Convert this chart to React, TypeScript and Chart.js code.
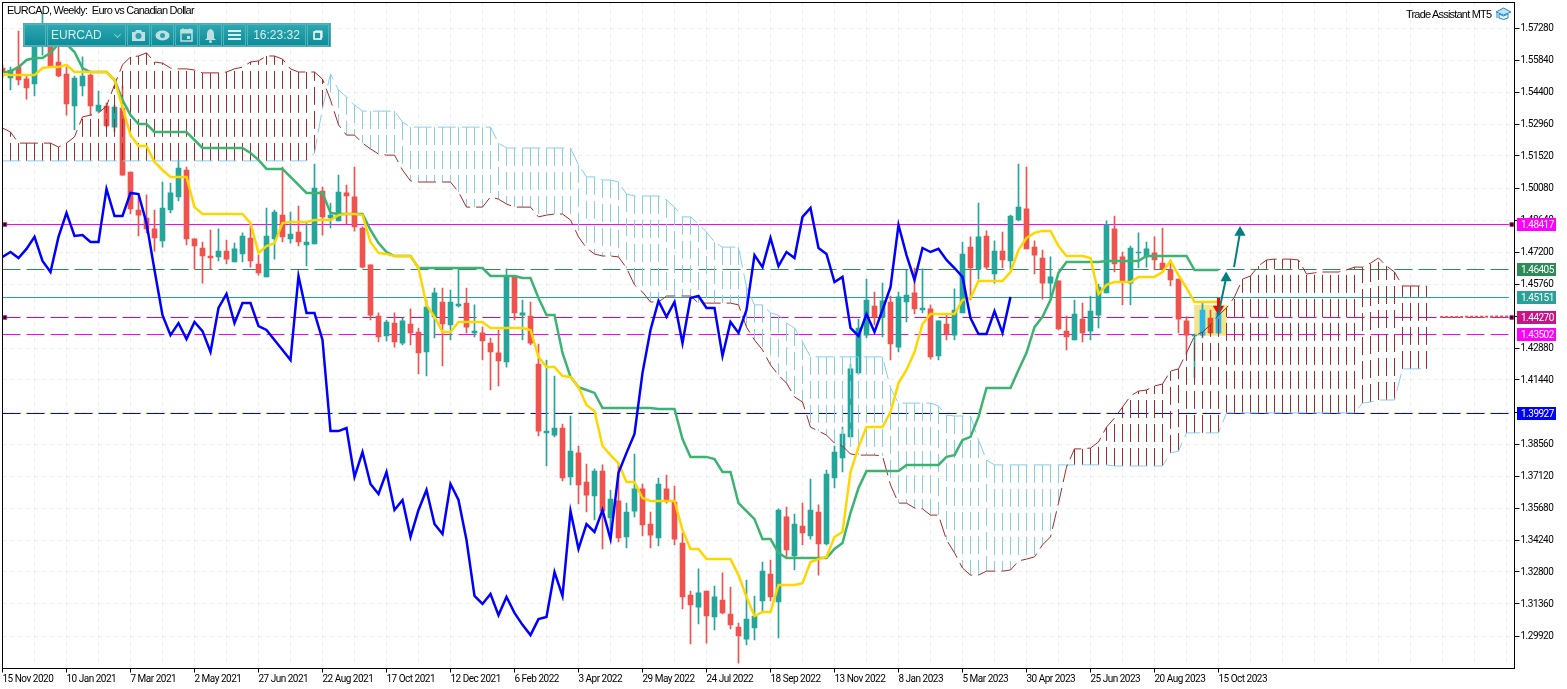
import React, { useEffect, useRef } from "react";
import { Chart, registerables } from "chart.js";

Chart.register(...registerables);

const FONT = 'Roboto, "Liberation Sans", sans-serif';

const dateLabels = ["15 Nov 2020","10 Jan 2021","7 Mar 2021","2 May 2021","27 Jun 2021","22 Aug 2021","17 Oct 2021","12 Dec 2021","6 Feb 2022","3 Apr 2022","29 May 2022","24 Jul 2022","18 Sep 2022","13 Nov 2022","8 Jan 2023","5 Mar 2023","30 Apr 2023","25 Jun 2023","20 Aug 2023","15 Oct 2023"];
const priceTicks = [1.5728,1.5584,1.544,1.5296,1.5152,1.5008,1.4864,1.472,1.4576,1.4432,1.4288,1.4144,1.4,1.3856,1.3712,1.3568,1.3424,1.328,1.3136,1.2992];

const highs = [1.5562,1.5552,1.5714,1.5517,1.5665,1.5791,1.5665,1.5642,1.5552,1.5512,1.5598,1.5521,1.5444,1.5390,1.5381,1.5467,1.5080,1.4968,1.4977,1.4909,1.5035,1.5030,1.5134,1.5102,1.4779,1.4765,1.4819,1.4824,1.4774,1.4760,1.4806,1.4837,1.4706,1.4918,1.4909,1.5102,1.4900,1.4927,1.4850,1.5116,1.5012,1.4940,1.5066,1.5021,1.5102,1.4833,1.4662,1.4446,1.4414,1.4446,1.4423,1.4464,1.4378,1.4504,1.4558,1.4558,1.4549,1.4644,1.4558,1.4482,1.4382,1.4333,1.4369,1.4644,1.4612,1.4504,1.4495,1.4306,1.4234,1.4162,1.3946,1.3982,1.3847,1.3766,1.3744,1.3762,1.3649,1.3762,1.3590,1.3811,1.3676,1.3550,1.3703,1.3716,1.3667,1.3456,1.3194,1.3294,1.3194,1.3217,1.3276,1.3212,1.3050,1.3244,1.3172,1.3325,1.3334,1.3564,1.3572,1.3541,1.3590,1.3698,1.3582,1.3739,1.3847,1.3932,1.4216,1.4418,1.4598,1.4540,1.4580,1.4522,1.4540,1.4639,1.4648,1.4644,1.4482,1.4410,1.4436,1.4554,1.4765,1.4788,1.4940,1.4815,1.4770,1.4810,1.4886,1.5116,1.5102,1.4770,1.4729,1.4698,1.4590,1.4432,1.4504,1.4490,1.4522,1.4576,1.4860,1.4882,1.4720,1.4747,1.4806,1.4765,1.4788,1.4828,1.4684,1.4598,1.4428,1.4351,1.4490,1.4459,1.4513];
const lows = [1.5503,1.5449,1.5472,1.5408,1.5422,1.5606,1.5557,1.5508,1.5336,1.5269,1.5422,1.5336,1.5350,1.5282,1.5260,1.5066,1.4891,1.4792,1.4806,1.4724,1.4742,1.4896,1.4950,1.4752,1.4644,1.4580,1.4644,1.4680,1.4666,1.4675,1.4675,1.4652,1.4616,1.4608,1.4688,1.4765,1.4760,1.4747,1.4657,1.4756,1.4796,1.4828,1.4860,1.4846,1.4814,1.4648,1.4414,1.4315,1.4320,1.4292,1.4302,1.4302,1.4171,1.4162,1.4333,1.4207,1.4324,1.4472,1.4356,1.4338,1.4234,1.4099,1.4117,1.4202,1.4414,1.4324,1.4302,1.3892,1.3757,1.3888,1.3690,1.3672,1.3586,1.3550,1.3514,1.3384,1.3469,1.3415,1.3388,1.3528,1.3442,1.3388,1.3397,1.3590,1.3402,1.3114,1.2956,1.3046,1.2960,1.3019,1.3091,1.3024,1.2870,1.2952,1.2974,1.3104,1.3150,1.2983,1.3343,1.3289,1.3402,1.3428,1.3266,1.3402,1.3658,1.3730,1.3888,1.4171,1.4333,1.4392,1.4338,1.4234,1.4270,1.4405,1.4441,1.4446,1.4238,1.4234,1.4324,1.4324,1.4446,1.4504,1.4598,1.4644,1.4580,1.4648,1.4639,1.4860,1.4734,1.4621,1.4508,1.4513,1.4369,1.4279,1.4324,1.4315,1.4324,1.4378,1.4536,1.4630,1.4482,1.4482,1.4648,1.4652,1.4639,1.4639,1.4567,1.4356,1.4266,1.4153,1.4333,1.4351,1.4351];
const opens = [1.5548,1.5503,1.5552,1.5499,1.5476,1.5652,1.5642,1.5575,1.5521,1.5377,1.5467,1.5516,1.5354,1.5377,1.5282,1.5368,1.5080,1.4909,1.4873,1.4824,1.4770,1.4909,1.4968,1.5089,1.4779,1.4738,1.4702,1.4698,1.4724,1.4675,1.4711,1.4783,1.4666,1.4608,1.4779,1.4886,1.4779,1.4810,1.4752,1.4756,1.4994,1.4873,1.4860,1.4986,1.4968,1.4828,1.4662,1.4432,1.4342,1.4400,1.4310,1.4396,1.4360,1.4270,1.4428,1.4495,1.4392,1.4477,1.4490,1.4356,1.4356,1.4310,1.4266,1.4225,1.4608,1.4436,1.4432,1.4216,1.3906,1.3896,1.3928,1.3708,1.3816,1.3685,1.3622,1.3734,1.3523,1.3600,1.3438,1.3554,1.3654,1.3496,1.3433,1.3654,1.3595,1.3410,1.3176,1.3122,1.3194,1.3078,1.3154,1.3091,1.3032,1.2978,1.3028,1.3150,1.3271,1.3145,1.3528,1.3352,1.3487,1.3442,1.3550,1.3406,1.3703,1.3793,1.3888,1.4176,1.4346,1.4477,1.4428,1.4495,1.4292,1.4495,1.4536,1.4459,1.4464,1.4252,1.4396,1.4346,1.4446,1.4742,1.4644,1.4792,1.4621,1.4724,1.4680,1.4864,1.4914,1.4742,1.4693,1.4580,1.4590,1.4364,1.4324,1.4418,1.4364,1.4436,1.4536,1.4824,1.4698,1.4580,1.4716,1.4698,1.4716,1.4670,1.4639,1.4598,1.4410,1.4342,1.4346,1.4423,1.4356];
const closes = [1.5516,1.5539,1.5494,1.5458,1.5652,1.5742,1.5557,1.5512,1.5386,1.5503,1.5512,1.5377,1.5381,1.5287,1.5372,1.5066,1.4914,1.4886,1.4824,1.4783,1.4918,1.4986,1.5098,1.4779,1.4747,1.4702,1.4693,1.4724,1.4688,1.4734,1.4792,1.4680,1.4626,1.4792,1.4900,1.4788,1.4801,1.4765,1.4765,1.5008,1.4878,1.4886,1.4990,1.4972,1.4833,1.4652,1.4436,1.4338,1.4405,1.4315,1.4410,1.4356,1.4266,1.4472,1.4536,1.4396,1.4495,1.4486,1.4382,1.4364,1.4320,1.4270,1.4230,1.4612,1.4446,1.4446,1.4310,1.3914,1.3914,1.3928,1.3703,1.3824,1.3672,1.3626,1.3734,1.3554,1.3608,1.3433,1.3550,1.3654,1.3492,1.3446,1.3676,1.3604,1.3428,1.3168,1.3132,1.3186,1.3082,1.3168,1.3096,1.3042,1.2992,1.3068,1.3082,1.3284,1.3168,1.3559,1.3379,1.3496,1.3456,1.3559,1.3406,1.3721,1.3820,1.3901,1.4194,1.4378,1.4504,1.4428,1.4500,1.4306,1.4518,1.4526,1.4464,1.4468,1.4248,1.4410,1.4351,1.4459,1.4711,1.4648,1.4788,1.4652,1.4724,1.4684,1.4882,1.4922,1.4734,1.4706,1.4580,1.4608,1.4374,1.4338,1.4441,1.4356,1.4454,1.4562,1.4842,1.4666,1.4590,1.4738,1.4720,1.4734,1.4684,1.4644,1.4594,1.4418,1.4346,1.4346,1.4459,1.4356,1.4446];

const tenkan = [1.5521,1.5516,1.5516,1.5516,1.5516,1.5548,1.5552,1.5552,1.5562,1.5530,1.5530,1.5530,1.5530,1.5530,1.5494,1.5372,1.5246,1.5197,1.5197,1.5125,1.5089,1.5058,1.5058,1.5058,1.4922,1.4891,1.4891,1.4891,1.4891,1.4891,1.4891,1.4850,1.4716,1.4747,1.4760,1.4850,1.4855,1.4855,1.4855,1.4864,1.4864,1.4864,1.4886,1.4891,1.4891,1.4886,1.4765,1.4716,1.4711,1.4702,1.4702,1.4702,1.4648,1.4482,1.4428,1.4360,1.4360,1.4405,1.4405,1.4405,1.4405,1.4378,1.4378,1.4378,1.4378,1.4378,1.4369,1.4248,1.4202,1.4202,1.4162,1.4158,1.4112,1.4032,1.4004,1.3847,1.3806,1.3770,1.3685,1.3685,1.3613,1.3600,1.3600,1.3600,1.3600,1.3469,1.3384,1.3384,1.3338,1.3338,1.3338,1.3338,1.3266,1.3168,1.3082,1.3100,1.3100,1.3222,1.3222,1.3222,1.3230,1.3325,1.3338,1.3348,1.3438,1.3460,1.3730,1.3842,1.3932,1.3932,1.3932,1.4000,1.4130,1.4189,1.4270,1.4396,1.4441,1.4441,1.4441,1.4441,1.4504,1.4513,1.4590,1.4590,1.4590,1.4590,1.4630,1.4729,1.4783,1.4806,1.4815,1.4815,1.4747,1.4702,1.4702,1.4702,1.4693,1.4531,1.4572,1.4585,1.4585,1.4585,1.4608,1.4608,1.4608,1.4630,1.4680,1.4616,1.4558,1.4495,1.4495,1.4495,1.4495];
const kijun = [1.5526,1.5534,1.5552,1.5584,1.5593,1.5593,1.5616,1.5656,1.5656,1.5620,1.5548,1.5530,1.5530,1.5530,1.5494,1.5404,1.5336,1.5296,1.5296,1.5260,1.5260,1.5260,1.5260,1.5260,1.5224,1.5188,1.5188,1.5188,1.5188,1.5188,1.5188,1.5166,1.5134,1.5094,1.5094,1.5094,1.5058,1.5022,1.4986,1.4986,1.4986,1.4896,1.4891,1.4891,1.4891,1.4891,1.4819,1.4760,1.4720,1.4702,1.4702,1.4702,1.4648,1.4648,1.4648,1.4648,1.4648,1.4648,1.4648,1.4648,1.4648,1.4612,1.4612,1.4612,1.4612,1.4603,1.4603,1.4513,1.4436,1.4436,1.4266,1.4158,1.4112,1.4099,1.4086,1.4018,1.4018,1.4018,1.4018,1.4018,1.4018,1.4018,1.4014,1.4014,1.4014,1.3878,1.3798,1.3798,1.3798,1.3788,1.3730,1.3730,1.3590,1.3554,1.3518,1.3428,1.3428,1.3366,1.3343,1.3343,1.3343,1.3343,1.3343,1.3343,1.3384,1.3410,1.3546,1.3658,1.3734,1.3734,1.3734,1.3734,1.3734,1.3762,1.3762,1.3762,1.3762,1.3762,1.3798,1.3806,1.3874,1.3888,1.3978,1.4108,1.4108,1.4108,1.4108,1.4189,1.4266,1.4382,1.4428,1.4504,1.4626,1.4675,1.4675,1.4675,1.4675,1.4675,1.4680,1.4680,1.4680,1.4680,1.4680,1.4702,1.4702,1.4702,1.4702,1.4702,1.4702,1.4639,1.4639,1.4639,1.4639];
const chikou = [1.4698,1.4720,1.4693,1.4734,1.4788,1.4680,1.4630,1.4788,1.4896,1.4792,1.4796,1.4765,1.4765,1.5004,1.4882,1.4882,1.4986,1.4981,1.4850,1.4639,1.4436,1.4346,1.4400,1.4328,1.4405,1.4364,1.4270,1.4468,1.4531,1.4400,1.4490,1.4490,1.4387,1.4369,1.4324,1.4279,1.4234,1.4612,1.4446,1.4446,1.4324,1.3914,1.3914,1.3928,1.3708,1.3820,1.3676,1.3631,1.3730,1.3559,1.3604,1.3438,1.3559,1.3649,1.3496,1.3451,1.3676,1.3604,1.3424,1.3172,1.3136,1.3181,1.3086,1.3168,1.3096,1.3042,1.2996,1.3068,1.3078,1.3280,1.3172,1.3554,1.3384,1.3496,1.3460,1.3559,1.3428,1.3726,1.3816,1.3901,1.4176,1.4369,1.4500,1.4428,1.4495,1.4310,1.4513,1.4522,1.4468,1.4468,1.4252,1.4405,1.4356,1.4459,1.4706,1.4652,1.4783,1.4657,1.4720,1.4693,1.4878,1.4918,1.4738,1.4711,1.4585,1.4608,1.4378,1.4342,1.4441,1.4360,1.4459,1.4562,1.4842,1.4706,1.4594,1.4738,1.4720,1.4734,1.4684,1.4648,1.4608,1.4423,1.4351,1.4351,1.4454,1.4356,1.4518];
const spanA = [1.5278,1.5260,1.5210,1.5210,1.5210,1.5210,1.5210,1.5192,1.5210,1.5238,1.5328,1.5336,1.5346,1.5377,1.5472,1.5562,1.5598,1.5602,1.5616,1.5575,1.5570,1.5548,1.5544,1.5544,1.5539,1.5526,1.5526,1.5526,1.5530,1.5544,1.5552,1.5575,1.5580,1.5602,1.5602,1.5588,1.5544,1.5530,1.5530,1.5530,1.5498,1.5404,1.5292,1.5246,1.5246,1.5210,1.5184,1.5161,1.5156,1.5156,1.5089,1.5040,1.5035,1.5035,1.5035,1.5035,1.5035,1.4990,1.4922,1.4922,1.4922,1.4968,1.4958,1.4936,1.4922,1.4922,1.4922,1.4878,1.4886,1.4891,1.4891,1.4864,1.4788,1.4738,1.4711,1.4702,1.4702,1.4698,1.4648,1.4572,1.4540,1.4495,1.4495,1.4522,1.4522,1.4522,1.4522,1.4490,1.4490,1.4490,1.4490,1.4490,1.4482,1.4382,1.4324,1.4279,1.4212,1.4166,1.4130,1.4068,1.4045,1.3932,1.3914,1.3896,1.3860,1.3847,1.3811,1.3806,1.3806,1.3806,1.3802,1.3672,1.3590,1.3590,1.3568,1.3564,1.3536,1.3536,1.3424,1.3366,1.3298,1.3266,1.3266,1.3284,1.3284,1.3284,1.3289,1.3330,1.3338,1.3348,1.3402,1.3438,1.3590,1.3752,1.3834,1.3834,1.3838,1.3865,1.3932,1.3973,1.4022,1.4072,1.4094,1.4099,1.4117,1.4126,1.4184,1.4194,1.4266,1.4342,1.4360,1.4392,1.4436,1.4468,1.4518,1.4598,1.4612,1.4657,1.4684,1.4688,1.4688,1.4688,1.4684,1.4621,1.4626,1.4630,1.4630,1.4630,1.4639,1.4652,1.4652,1.4670,1.4693,1.4657,1.4630,1.4567,1.4567,1.4567,1.4567];
const spanB = [1.5130,1.5130,1.5130,1.5130,1.5130,1.5130,1.5130,1.5130,1.5130,1.5130,1.5130,1.5130,1.5130,1.5130,1.5130,1.5130,1.5130,1.5130,1.5130,1.5130,1.5130,1.5130,1.5130,1.5130,1.5130,1.5130,1.5130,1.5130,1.5130,1.5130,1.5130,1.5130,1.5130,1.5130,1.5130,1.5130,1.5130,1.5130,1.5130,1.5166,1.5368,1.5521,1.5449,1.5418,1.5381,1.5354,1.5354,1.5354,1.5354,1.5354,1.5305,1.5282,1.5282,1.5282,1.5282,1.5282,1.5282,1.5282,1.5282,1.5282,1.5282,1.5282,1.5210,1.5188,1.5188,1.5188,1.5188,1.5188,1.5188,1.5188,1.5188,1.5188,1.5112,1.5058,1.5058,1.5044,1.5044,1.5035,1.4981,1.4972,1.4972,1.4972,1.4972,1.4954,1.4922,1.4878,1.4878,1.4846,1.4810,1.4765,1.4742,1.4742,1.4742,1.4562,1.4482,1.4482,1.4446,1.4436,1.4400,1.4378,1.4315,1.4248,1.4248,1.4248,1.4248,1.4248,1.4248,1.4248,1.4248,1.4248,1.4248,1.4108,1.4040,1.4040,1.4040,1.4040,1.4040,1.4027,1.3986,1.3982,1.3982,1.3982,1.3874,1.3784,1.3762,1.3762,1.3762,1.3762,1.3762,1.3762,1.3762,1.3762,1.3762,1.3762,1.3762,1.3762,1.3762,1.3762,1.3762,1.3757,1.3757,1.3757,1.3757,1.3757,1.3757,1.3757,1.3816,1.3824,1.3906,1.3906,1.3906,1.3906,1.3906,1.3996,1.3996,1.3996,1.3996,1.3996,1.3996,1.3996,1.3996,1.3996,1.3996,1.3996,1.3996,1.3996,1.3996,1.3996,1.3996,1.3996,1.4040,1.4045,1.4054,1.4054,1.4054,1.4194,1.4194,1.4194,1.4194];

const levelValues = [1.48417, 1.46405, 1.45151, 1.4427, 1.43502, 1.39927];
const levelLines = [1.484375, 1.464125, 1.451525, 1.442525, 1.434875, 1.399325];
const levelColors = ["#FF00FF", "#2E8B57", "#2AA198", "#C71585", "#FF00FF", "#0000FF"];
const levelDashed = [false, true, false, true, true, true];
const levelEndX = 188.3;

const highlightIndexes = [150, 151, 152];
const highlightColors = ["#29B6E8", "#E5522A", "#29B6E8"];
const highlightBox = { x: 151, top: 1.44815, bottom: 1.43443 };
const anchorX = [0.3, 188.65];
const anchorY = [1.484375, 1.442525];
const bidLineX = [179.7, 188.3];
const bidLineY = [1.4427, 1.4430];
const arrowUpA = { x: [151.94, 152.95], y: [1.4432, 1.4603] };
const arrowUpB = { x: [153.94, 154.69], y: [1.4652, 1.4808] };
const arrowDown = { x: [152, 152], y: [1.4513, 1.4464] };

const BULL = "#26A69A";
const BEAR = "#EF5350";
const BROWN = "#A52A2A";
const SKY = "#87CEEB";

function series(values: number[]) {
  return values.map((y, x) => ({ x, y }));
}

function hatch(test: (a: number, b: number) => boolean) {
  const out: { x: number; y: number }[] = [];
  spanA.forEach((a, i) => {
    const b = spanB[i];
    if (i < spanB.length && test(a, b)) {
      out.push({ x: i, y: b }, { x: i, y: a }, { x: i, y: NaN });
    }
  });
  return out;
}

const lineBase = { type: "line" as const, pointRadius: 0, tension: 0, spanGaps: false, fill: false };

const tagPlugin = {
  id: "tags",
  beforeDraw(chart: any) {
    chart.ctx.letterSpacing = "-0.5px";
  },
  afterDraw(chart: any) {
    const { ctx, chartArea, scales } = chart;
    ctx.save();
    ctx.strokeStyle = "#000";
    ctx.lineWidth = 1;
    ctx.strokeRect(chartArea.left, chartArea.top, chartArea.right - chartArea.left, chartArea.bottom - chartArea.top);
    ctx.font = `10px ${FONT}`;
    ctx.textBaseline = "middle";
    ctx.textAlign = "left";
    levelValues.forEach((v, i) => {
      const y = Math.floor(scales.y.getPixelForValue(levelLines[i]));
      ctx.fillStyle = levelColors[i];
      ctx.fillRect(1517, y - 6, 39, 13);
      ctx.fillStyle = "#fff";
      ctx.fillText(v.toFixed(5), 1521, y + 1);
    });
    ctx.restore();
  },
};

const zeroPadding = (s: any) => {
  s.paddingLeft = 0;
  s.paddingRight = 0;
  s.paddingTop = 0;
  s.paddingBottom = 0;
};

const Cell = ({ x, w, children }: { x: number; w: number; children?: React.ReactNode }) => (
  <div style={{ position: "absolute", left: x - 24, top: 0, width: w, height: 22, boxSizing: "border-box", border: "1px solid #4FB4BC", display: "flex", alignItems: "center", justifyContent: "center" }}>
    {children}
  </div>
);

export default function App() {
  const ref = useRef<HTMLCanvasElement | null>(null);
  useEffect(() => {
    if (!ref.current) return;
    const wicks = highs.map((h, i) => ({ x: i, y: [lows[i], h] }));
    const bodies = opens.map((o, i) => ({ x: i, y: [o, closes[i]] }));
    const bodyColors = opens.map((o, i) => {
      const k = highlightIndexes.indexOf(i);
      if (k >= 0) return highlightColors[k];
      return closes[i] >= o ? BULL : BEAR;
    });
    const wickColors = opens.map((o, i) => (closes[i] >= o ? BULL : BEAR));
    const levelSets = levelLines.map((v, i) => ({
      ...lineBase,
      data: [{ x: 0, y: v }, { x: levelEndX, y: v }],
      borderColor: levelColors[i],
      borderWidth: 1,
      borderDash: levelDashed[i] ? [18, 6] : [],
      order: 60,
    }));
    const chart = new Chart(ref.current, {
      type: "line",
      data: {
        datasets: [
          ...levelSets,
          { type: "bar", data: [{ x: highlightBox.x, y: [highlightBox.bottom, highlightBox.top] }], backgroundColor: "#F0E68C", barThickness: 32, grouped: false, order: 55 },
          { type: "bar", data: wicks, backgroundColor: wickColors, barThickness: 1, grouped: false, order: 50 },
          { type: "bar", data: bodies, backgroundColor: bodyColors, barThickness: 5, grouped: false, order: 49 },
          { ...lineBase, data: hatch((a, b) => a > b), borderColor: BROWN, borderWidth: 1, borderDash: [18, 6], order: 40 },
          { ...lineBase, data: hatch((a, b) => a <= b), borderColor: SKY, borderWidth: 1, borderDash: [18, 6], order: 40 },
          { ...lineBase, data: series(spanB), borderColor: SKY, borderWidth: 1, borderDash: [18, 6], order: 39 },
          { ...lineBase, data: series(spanA), borderColor: BROWN, borderWidth: 1, borderDash: [18, 6], order: 38 },
          { ...lineBase, data: series(kijun), borderColor: "#3CB371", borderWidth: 2.5, order: 30 },
          { ...lineBase, data: series(tenkan), borderColor: "#FFD700", borderWidth: 2.5, order: 29 },
          { ...lineBase, data: series(chikou), borderColor: "#0000FF", borderWidth: 2.5, order: 28 },
          { ...lineBase, data: bidLineX.map((x, i) => ({ x, y: bidLineY[i] })), borderColor: "#EF5350", borderWidth: 2, borderDash: [3, 2], order: 27 },
          { ...lineBase, data: anchorX.flatMap((x) => anchorY.map((y) => ({ x, y }))), showLine: false, pointRadius: 2.5, pointStyle: "rect", backgroundColor: "#000", borderColor: "#C71585", borderWidth: 1, order: 26 },
          { ...lineBase, data: arrowDown.x.map((x, i) => ({ x, y: arrowDown.y[i] })), borderColor: "#FF0000", backgroundColor: "#FF0000", borderWidth: 3, pointRadius: [0, 6.5], pointStyle: "triangle", pointRotation: 180, pointBorderWidth: 0, order: 20 },
          { ...lineBase, data: arrowUpA.x.map((x, i) => ({ x, y: arrowUpA.y[i] })), borderColor: "#008080", backgroundColor: "#008080", borderWidth: 2, pointRadius: [0, 6.5], pointStyle: "triangle", pointBorderWidth: 0, order: 19 },
          { ...lineBase, data: arrowUpB.x.map((x, i) => ({ x, y: arrowUpB.y[i] })), borderColor: "#008080", backgroundColor: "#008080", borderWidth: 2, pointRadius: [0, 6.5], pointStyle: "triangle", pointBorderWidth: 0, order: 18 },
        ] as any,
      },
      options: {
        responsive: false,
        animation: false,
        devicePixelRatio: 1,
        layout: { autoPadding: false, padding: { left: 2.5, top: 2.5, right: 0, bottom: 0 } },
        plugins: { legend: { display: false }, tooltip: { enabled: false }, title: { display: false } },
        scales: {
          x: {
            type: "linear",
            offset: false,
            min: 0,
            max: 189,
            afterFit: (s: any) => { s.height = 20.5; zeroPadding(s); },
            afterBuildTicks: (s: any) => {
              const t = [];
              for (let v = 0; v <= 188; v += 4) t.push({ value: v });
              s.ticks = t;
            },
            grid: {
              offset: false,
              color: "#EDEDED",
              tickLength: 4,
              tickColor: (c: any) => (c.tick && c.tick.value % 8 === 0 && c.tick.value <= 152 ? "#000" : "transparent"),
            },
            border: { color: "#000", width: 1, dash: [4, 4] },
            ticks: {
              autoSkip: false,
              maxRotation: 0,
              minRotation: 0,
              align: "start",
              padding: 1,
              color: "#000",
              font: { family: FONT, size: 10 },
              callback: (v: any) => (v % 8 === 0 ? dateLabels[v / 8] ?? "" : ""),
            },
          },
          y: {
            type: "linear",
            position: "right",
            beginAtZero: false,
            min: 1.284575,
            max: 1.584275,
            afterFit: (s: any) => { s.width = 52.5; zeroPadding(s); },
            afterBuildTicks: (s: any) => { s.ticks = priceTicks.map((value) => ({ value })); },
            grid: { color: "#EDEDED", tickLength: 5, tickColor: "#000" },
            border: { color: "#000", width: 1, dash: [4, 4] },
            ticks: {
              autoSkip: false,
              padding: 1,
              color: "#000",
              font: { family: FONT, size: 10 },
              callback: (v: any) => Number(v).toFixed(5),
            },
          },
        },
      } as any,
      plugins: [tagPlugin],
    });
    return () => chart.destroy();
  }, []);

  const iconColor = "#D6EEF0";
  return (
    <div style={{ position: "fixed", left: 0, top: 0, width: 1567, height: 689, background: "#fff", overflow: "hidden" }}>
      <canvas ref={ref} width={1567} height={689} style={{ display: "block", position: "absolute", left: 0, top: 0, width: 1567, height: 689 }} />
      <div style={{ position: "absolute", left: 7, top: 4, font: `11px "Liberation Sans"`, letterSpacing: "-0.75px", whiteSpace: "pre", color: "#000" }}>EURCAD, Weekly:  Euro vs Canadian Dollar</div>
      <div style={{ position: "absolute", left: 1406, top: 8, font: `11px "Liberation Sans"`, letterSpacing: "-0.8px", whiteSpace: "pre", color: "#000" }}>Trade Assistant MT5</div>
      <svg style={{ position: "absolute", left: 1495, top: 7 }} width={17} height={14} viewBox="0 0 17 14">
        <path d="M1 5 L8.5 1 L16 5 L8.5 8 Z" fill="#BFE3F5" stroke="#1E88C8" />
        <path d="M4 7 V11 Q8.5 14 13 11 V7 L8.5 9 Z" fill="#E6F5FC" stroke="#1E88C8" />
        <path d="M2 5.5 V11" stroke="#1E88C8" fill="none" />
      </svg>
      <div style={{ position: "absolute", left: 23, top: 23, width: 308, height: 24, background: "linear-gradient(#2FA9B2, #0C8A98)", border: "1px solid #5AA8AE", boxSizing: "border-box", color: iconColor, font: `12px "Liberation Sans"` }}>
        <Cell x={24} w={22} />
        <Cell x={47} w={79}>
          <span style={{ position: "absolute", left: 3, top: 3 }}>EURCAD</span>
          <span style={{ position: "absolute", right: 5, top: 7, width: 4, height: 4, borderRight: "1px solid #8CCBD0", borderBottom: "1px solid #8CCBD0", transform: "rotate(45deg)" }} />
        </Cell>
        <Cell x={127} w={23}>
          <svg width={15} height={13} viewBox="0 0 15 13"><path d="M1 3 H4 L5 1 H10 L11 3 H14 V12 H1 Z" fill="#BFDFE2" /><circle cx={7.5} cy={7} r={3} fill="#2FA0A8" /></svg>
        </Cell>
        <Cell x={151} w={23}>
          <svg width={15} height={11} viewBox="0 0 15 11"><ellipse cx={7.5} cy={5.5} rx={7} ry={5} fill="#BFDFE2" /><circle cx={7.5} cy={5.5} r={2.5} fill="#2FA0A8" /></svg>
        </Cell>
        <Cell x={175} w={23}>
          <svg width={13} height={14} viewBox="0 0 13 14"><path d="M1 2 H12 V13 H1 Z" fill="none" stroke="#BFDFE2" strokeWidth={1.5} /><path d="M1 2 H12 V5 H1 Z M3 0 V3 M10 0 V3" fill="#BFDFE2" stroke="#BFDFE2" /><rect x={7} y={8} width={3} height={3} fill="#BFDFE2" /></svg>
        </Cell>
        <Cell x={199} w={23}>
          <svg width={13} height={15} viewBox="0 0 13 15"><path d="M6.5 1 Q10 2 10 6 V10 L12 12 H1 L3 10 V6 Q3 2 6.5 1 Z" fill="#BFDFE2" /><circle cx={6.5} cy={13.5} r={1.5} fill="#BFDFE2" /></svg>
        </Cell>
        <Cell x={223} w={23}>
          <svg width={13} height={10} viewBox="0 0 13 10"><path d="M0 1 H13 M0 5 H13 M0 9 H13" stroke="#D6EEF0" strokeWidth={2} /></svg>
        </Cell>
        <Cell x={247} w={59}>16:23:32</Cell>
        <Cell x={307} w={22}>
          <svg width={10} height={10} viewBox="0 0 10 10"><rect x={1} y={2} width={7} height={7} fill="none" stroke="#fff" strokeWidth={1.5} /><path d="M2 1 H9 V8" fill="none" stroke="#fff" /></svg>
        </Cell>
      </div>
    </div>
  );
}
